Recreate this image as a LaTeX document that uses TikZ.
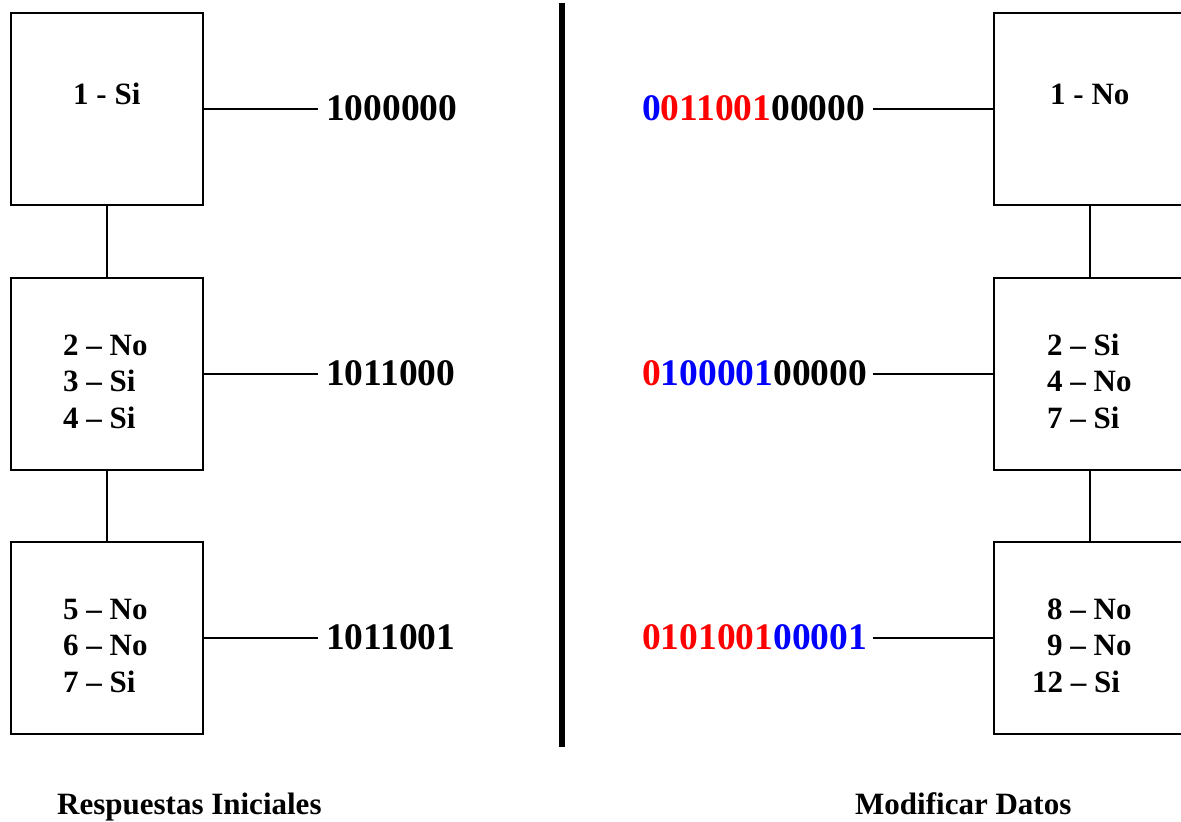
\documentclass[tikz,border=0pt]{standalone}
\usepackage{fontspec}
\setmainfont{Liberation Serif}
\definecolor{bitred}{RGB}{255,0,0}
\definecolor{bitblue}{RGB}{0,0,255}
\begin{document}
\begin{tikzpicture}[x=1pt,y=-1pt,
  box/.style={draw=black,line width=2pt,minimum width=192pt,minimum height=192pt,inner sep=0pt},
  link/.style={draw=black,line width=2pt},
  entry/.style={anchor=base west,inner sep=0pt,font=\bfseries\fontsize{31}{36}\selectfont},
  code/.style={anchor=base west,inner sep=0pt,font=\bfseries\fontsize{37.5}{40}\selectfont},
  caption/.style={anchor=base west,inner sep=0pt,font=\bfseries\fontsize{31}{36}\selectfont}]
\useasboundingbox[fill=white] (0,0) rectangle (1181,822);

% left column: initial answers
\node[box] (L1) at (107,109) {};
\node[box] (L2) at (107,374) {};
\node[box] (L3) at (107,638) {};
\draw[link] (L1.south) -- (L2.north);
\draw[link] (L2.south) -- (L3.north);

\node[entry] (l1a) at (73,104) {1 - Si};
\node[entry] (l2a) at (63,355) {2 – No};
\node[entry] (l2b) at (63,391.5) {3 – Si};
\node[entry] (l2c) at (63,428) {4 – Si};
\node[entry] (l3a) at (63,619) {5 – No};
\node[entry] (l3b) at (63,655.5) {6 – No};
\node[entry] (l3c) at (63,692) {7 – Si};

\node[code] (c1) at (326,120) {1000000};
\node[code] (c2) at (326,385) {1011000};
\node[code] (c3) at (326,649) {1011001};
\coordinate (e1) at (318,109);
\coordinate (e2) at (318,374);
\coordinate (e3) at (318,638);
\draw[link] (L1.east) -- (e1);
\draw[link] (L2.east) -- (e2);
\draw[link] (L3.east) -- (e3);

% divider
\coordinate (dtop) at (562,3);
\coordinate (dbot) at (562,747);
\draw[line width=5.5pt] (dtop) -- (dbot);

% right column: modified data
\node[box] (R1) at (1090,109) {};
\node[box] (R2) at (1090,374) {};
\node[box] (R3) at (1090,638) {};
\draw[link] (R1.south) -- (R2.north);
\draw[link] (R2.south) -- (R3.north);

\node[entry] (r1a) at (1050,104) {1 - No};
\node[entry] (r2a) at (1047,355) {2 – Si};
\node[entry] (r2b) at (1047,391.5) {4 – No};
\node[entry] (r2c) at (1047,428) {7 – Si};
\node[entry] (r3a) at (1047,619) {8 – No};
\node[entry] (r3b) at (1047,655.5) {9 – No};
\node[entry] (r3c) at (1032,692) {12 – Si};

\node[code] (d1) at (642,120) {\textcolor{bitblue}{0}\textcolor{bitred}{011001}00000};
\node[code] (d2) at (642,385) {\textcolor{bitred}{0}\textcolor{bitblue}{100001}00000};
\node[code] (d3) at (642,649) {\textcolor{bitred}{0101001}\textcolor{bitblue}{00001}};
\coordinate (f1) at (873,109);
\coordinate (f2) at (873,374);
\coordinate (f3) at (873,638);
\draw[link] (f1) -- (R1.west);
\draw[link] (f2) -- (R2.west);
\draw[link] (f3) -- (R3.west);

% captions
\node[caption] (capL) at (57,814) {Respuestas Iniciales};
\node[caption] (capR) at (855,814) {Modificar Datos};
\end{tikzpicture}
\end{document}
